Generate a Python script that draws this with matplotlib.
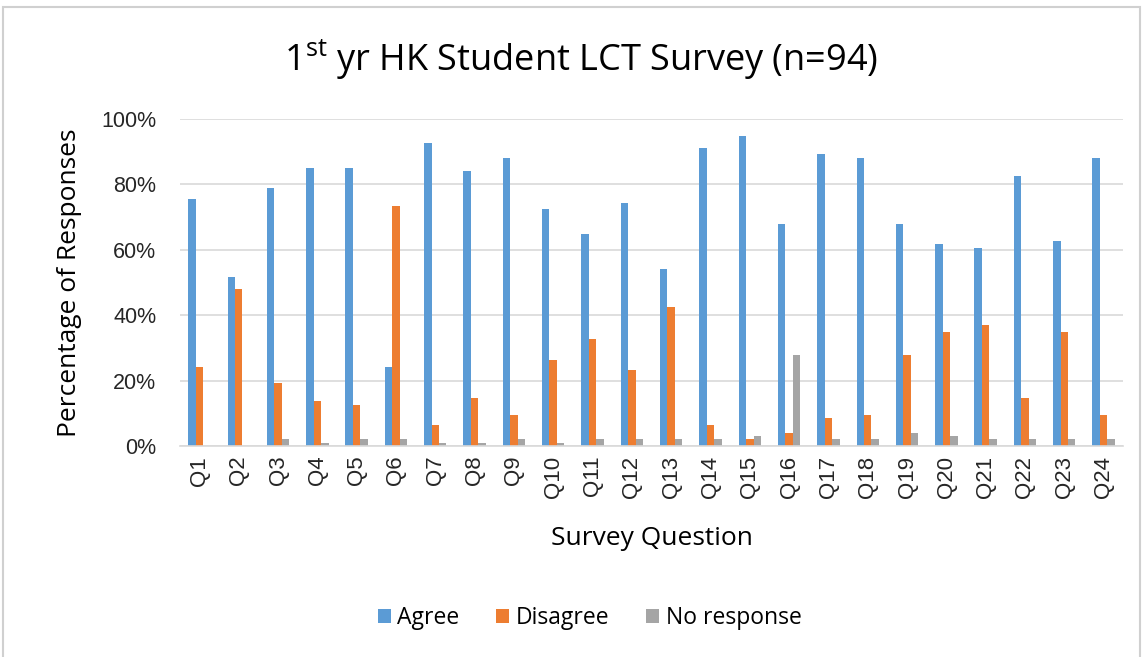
import numpy as np
import matplotlib.pyplot as plt
from matplotlib.patches import Rectangle

plt.rcParams['font.family'] = ['Open Sans', 'DejaVu Sans']

# survey results (percent of responses)
questions = ['Q%d' % i for i in range(1, 25)]
agree = [75.5, 51.8, 78.8, 85.0, 85.0, 24.2, 92.6, 84.0, 88.1, 72.4, 64.8, 74.2,
         54.1, 91.2, 94.8, 68.0, 89.4, 88.1, 68.0, 61.7, 60.4, 82.7, 62.6, 88.1]
disagree = [24.2, 47.9, 19.3, 13.9, 12.6, 73.4, 6.3, 14.8, 9.5, 26.4, 32.8, 23.3,
            42.4, 6.3, 2.1, 4.1, 8.5, 9.5, 27.8, 35.0, 37.1, 14.8, 35.0, 9.5]
no_response = [0.0, 0.0, 2.1, 1.1, 2.1, 2.1, 1.1, 1.1, 2.1, 1.1, 2.1, 2.1,
               2.1, 2.1, 3.2, 27.8, 2.1, 2.1, 4.1, 3.2, 2.1, 2.1, 2.1, 2.1]

fig = plt.figure(figsize=(11.45, 6.57), dpi=100)
ax = fig.add_axes([0.157, 0.321, 0.824, 0.498])

x = np.arange(len(questions))
w = 0.19
ax.bar(x - w, np.array(agree) / 100, w, color='#5B9BD5', label='Agree')
ax.bar(x, np.array(disagree) / 100, w, color='#ED7D31', label='Disagree')
ax.bar(x + w, np.array(no_response) / 100, w, color='#A5A5A5', label='No response')

tick_font = ['Liberation Sans', 'DejaVu Sans']
ax.set_xlim(-0.5, len(questions) - 0.5)
ax.set_ylim(0, 1)
ax.set_yticks(np.arange(0, 1.01, 0.2))
ax.set_yticklabels(['%d%%' % v for v in range(0, 101, 20)], fontsize=15.5,
                   color='#262626', family=tick_font)
ax.set_xticks(x)
ax.set_xticklabels(questions, rotation=90, fontsize=16, color='#262626',
                   family=tick_font)
ax.tick_params(axis='x', length=0, pad=7)
ax.tick_params(axis='y', length=0, pad=17)
ax.grid(axis='y', color='#D9D9D9', linewidth=1.2)
ax.set_axisbelow(True)
for s in ['top', 'right', 'left']:
    ax.spines[s].set_visible(False)
ax.spines['bottom'].set_color('#D9D9D9')
ax.spines['bottom'].set_linewidth(1.2)

ax.set_ylabel('Percentage of Responses', fontsize=19, color='#000000')
ax.yaxis.set_label_coords(-0.104, 0.5)
ax.set_xlabel('Survey Question', fontsize=19, color='#000000', labelpad=20)

fig.text(0.507, 0.909, r'1$^{\mathregular{st}}$ yr HK Student LCT Survey (n=94)',
         ha='center', va='center', fontsize=26)

fig.legend(loc='center', bbox_to_anchor=(0.515, 0.059), ncol=3, frameon=False,
           fontsize=16.5, handlelength=0.55, handleheight=0.55, columnspacing=1.6,
           handletextpad=0.3)

fig.patches.append(Rectangle((0.003, -0.01), 0.993, 1.0, transform=fig.transFigure,
                             fill=False, edgecolor='#D0D0D0', linewidth=1.5))

fig.savefig('out.png', dpi=100)
